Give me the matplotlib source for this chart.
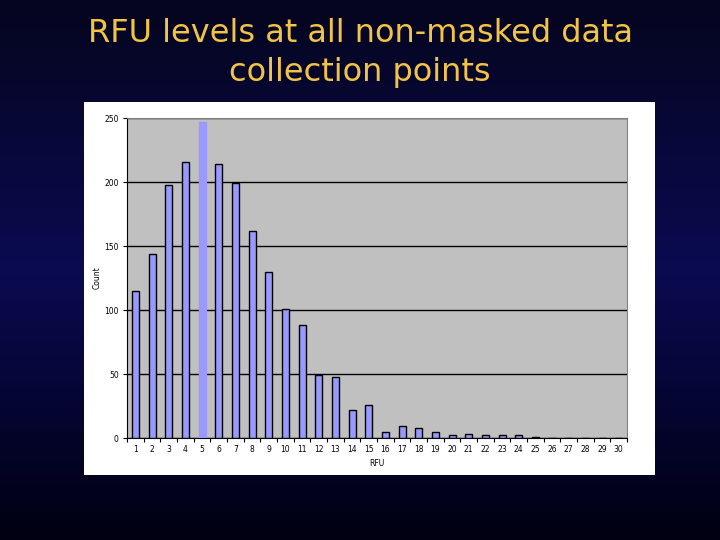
import numpy as np
import matplotlib
matplotlib.use('Agg')
from matplotlib import pyplot as plt
from matplotlib.patches import Rectangle

rfu_labels = [str(i) for i in range(1, 31)]
counts = [115, 144, 198, 216, 247, 214, 199, 162, 130, 101,
          88, 49, 48, 22, 26, 5, 9, 8, 5, 2,
          3, 2, 2, 2, 1, 0, 0, 0, 0, 0]
y_ticks = [0, 50, 100, 150, 200, 250]

fig = plt.figure(figsize=(7.2, 5.4), dpi=100)

# slide background gradient (top -> bottom)
bg = fig.add_axes([0, 0, 1, 1])
t = np.linspace(0, 1, 256)
r = np.interp(t, [0, 0.5, 1], [0.02, 0.04, 0.00])
g = np.interp(t, [0, 0.5, 1], [0.02, 0.04, 0.00])
b = np.interp(t, [0, 0.5, 1], [0.12, 0.32, 0.07])
grad = np.stack([r, g, b], axis=-1)[:, None, :]
bg.imshow(grad, aspect='auto', extent=[0, 1, 0, 1], origin='upper')
bg.set_xlim(0, 1)
bg.set_ylim(0, 1)
bg.set_axis_off()

bg.add_patch(Rectangle((84 / 720, 65 / 540), 571 / 720, 373 / 540,
                       facecolor='white', edgecolor='none'))

fig.text(0.5, 1 - 33 / 540, 'RFU levels at all non-masked data',
         ha='center', va='center', color='#F2C443', fontsize=23)
fig.text(0.5, 1 - 72 / 540, 'collection points',
         ha='center', va='center', color='#F2C443', fontsize=23)

ax = fig.add_axes([127 / 720, 102 / 540, 500 / 720, 320 / 540])
ax.set_facecolor('#C0C0C0')
x = np.arange(len(counts))
bars = ax.bar(x, counts, width=0.42, color='#9999FF', edgecolor='black',
              linewidth=1.0, zorder=3)
bars[4].set_edgecolor('#9999FF')

ax.set_xlim(-0.5, len(counts) - 0.5)
ax.set_ylim(0, 250)
ax.set_yticks(y_ticks)
ax.set_yticklabels([str(v) for v in y_ticks], fontsize=5.5)
ax.yaxis.grid(True, color='black', linewidth=1.0, zorder=1)
ax.set_axisbelow(True)

ax.set_xticks(np.arange(-0.5, len(counts) + 0.5, 1.0))
ax.set_xticklabels([])
ax.set_xticks(x, minor=True)
ax.set_xticklabels(rfu_labels, minor=True, fontsize=5.5)
ax.tick_params(axis='x', which='minor', length=0, pad=5)
ax.tick_params(axis='x', which='major', length=3, color='black')
ax.tick_params(axis='y', length=3, color='black', pad=3)

for side in ['top', 'right']:
    ax.spines[side].set_color('#808080')
ax.spines['left'].set_color('black')
ax.spines['bottom'].set_color('black')

ax.set_xlabel('RFU', fontsize=5.5, labelpad=4)
ax.set_ylabel('Count', fontsize=5.5, labelpad=2)

fig.savefig('out.png', dpi=100)
